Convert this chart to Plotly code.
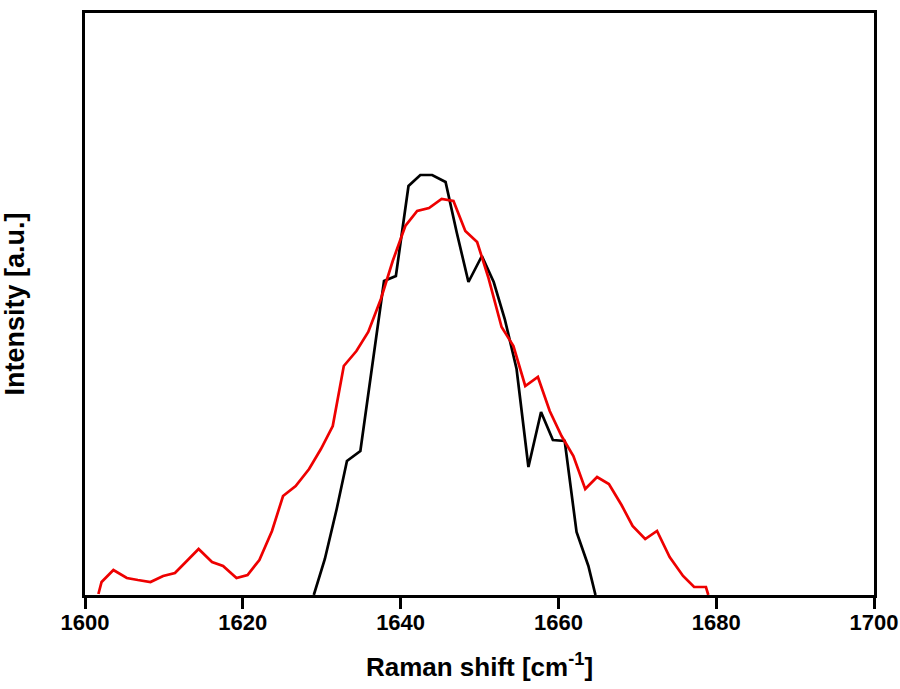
import plotly.graph_objects as go

# Raman shift (cm^-1) and intensity (a.u.)
red_x = [1601.7, 1602.1, 1603.6, 1605.3, 1606.7, 1608.3, 1609.9, 1611.4, 1612.9, 1614.4,
         1616.1, 1617.5, 1619.2, 1620.6, 1622.1, 1623.7, 1625.1, 1626.7, 1628.4, 1629.9,
         1631.4, 1632.8, 1634.4, 1635.9, 1637.5, 1639.0, 1640.6, 1642.1, 1643.6, 1645.2,
         1646.7, 1648.2, 1649.7, 1651.1, 1652.8, 1654.3, 1655.8, 1657.4, 1658.9, 1660.4,
         1661.9, 1663.4, 1664.9, 1666.4, 1668.0, 1669.4, 1671.0, 1672.5, 1674.1, 1675.8,
         1677.2, 1678.7, 1679.0]
red_y = [1, 13, 25, 17, 15, 13, 19, 22, 34, 46,
         33, 29, 17, 20, 35, 64, 99, 109, 126, 146,
         169, 229, 244, 263, 296, 334, 369, 384, 387, 396,
         394, 364, 353, 318, 268, 249, 209, 218, 184, 159,
         139, 106, 118, 111, 90, 69, 56, 64, 38, 19,
         8, 8, 0]

black_x = [1629.0, 1630.4, 1631.9, 1633.2, 1634.9, 1636.4, 1637.9, 1639.4, 1641.0, 1642.5,
           1644.0, 1645.7, 1647.1, 1648.6, 1650.3, 1651.8, 1653.2, 1654.7, 1656.2, 1657.8,
           1659.3, 1660.8, 1662.3, 1663.8, 1664.7]
black_y = [0, 36, 86, 134, 144, 231, 314, 319, 409, 420,
           420, 413, 363, 313, 339, 313, 276, 226, 128, 183,
           155, 154, 63, 29, 0]

x_ticks = [1600, 1620, 1640, 1660, 1680, 1700]

fig = go.Figure()
fig.add_trace(go.Scatter(x=black_x, y=black_y, mode="lines",
                         line=dict(color="black", width=2.7), showlegend=False))
fig.add_trace(go.Scatter(x=red_x, y=red_y, mode="lines",
                         line=dict(color="#ee0000", width=2.7), showlegend=False))

font_family = "Liberation Sans, Arial, sans-serif"
fig.update_layout(
    width=900, height=689,
    margin=dict(l=85, r=26, t=13, b=94, autoexpand=False),
    plot_bgcolor="white", paper_bgcolor="white",
    font=dict(family=font_family, color="black"),
)
fig.update_xaxes(
    range=[1600, 1700], tickvals=x_ticks, ticktext=[str(t) for t in x_ticks],
    showline=True, linecolor="black", linewidth=2.7, mirror=True,
    ticks="outside", ticklen=11, tickwidth=2.7, tickcolor="black",
    ticklabelstandoff=-5,
    showgrid=False, zeroline=False, automargin=False,
    tickfont=dict(size=22, family=font_family, weight="bold"),
    title=dict(text="Raman shift [cm<sup>-1</sup>]",
               font=dict(size=26, family=font_family, weight="bold"),
               standoff=24),
)
fig.update_yaxes(
    range=[0, 582], showticklabels=False, ticks="",
    showline=True, linecolor="black", linewidth=2.7, mirror=True,
    showgrid=False, zeroline=False, automargin=False,
    title=dict(text="Intensity [a.u.]",
               font=dict(size=27, family=font_family, weight="bold"),
               standoff=50),
)

fig.write_html("out.html", config={"displayModeBar": False},
               post_script="document.body.style.margin='0';document.body.style.overflow='hidden';")
